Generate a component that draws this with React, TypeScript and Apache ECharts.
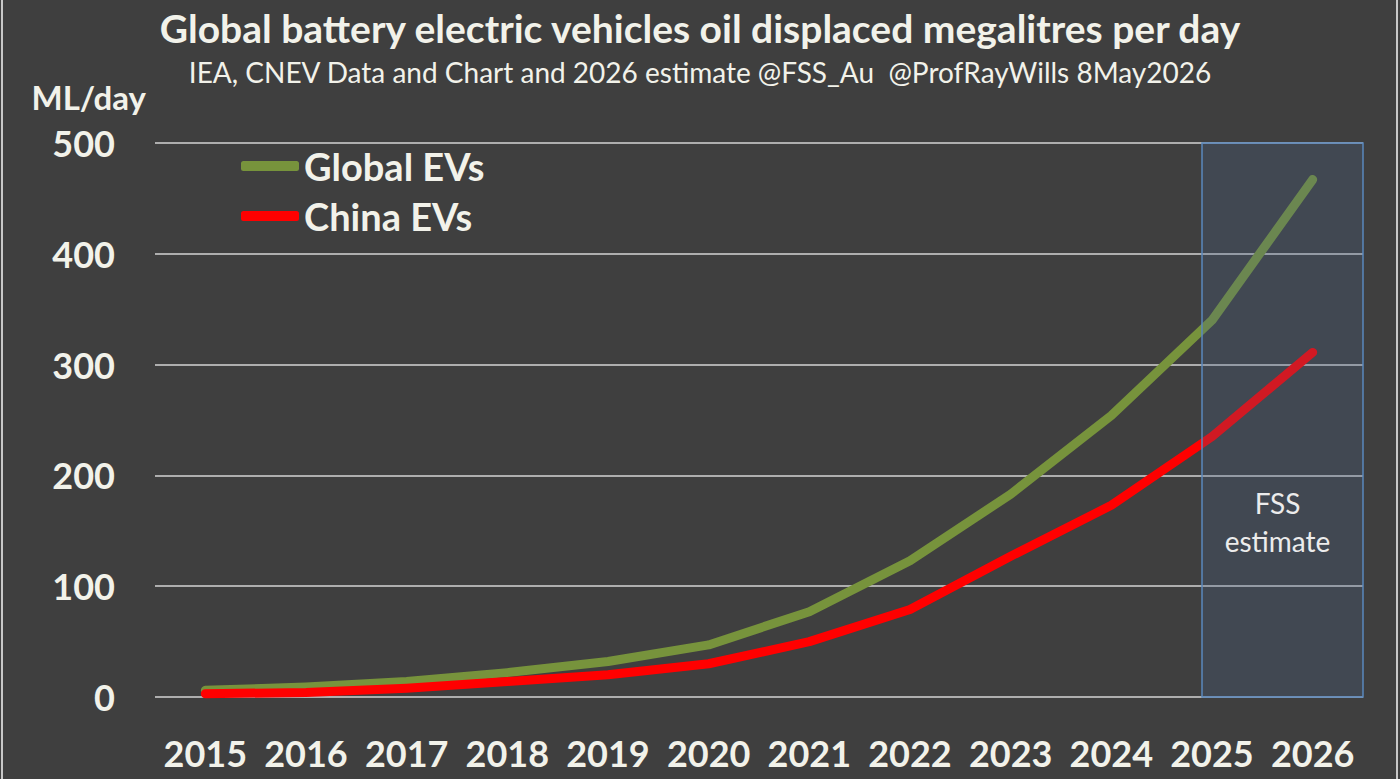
import React, { useRef, useEffect } from 'react'
import * as echarts from 'echarts'

const years = ['2015', '2016', '2017', '2018', '2019', '2020', '2021', '2022', '2023', '2024', '2025', '2026']
const globalEVs = [6, 9, 14, 22, 32, 47, 77, 123, 183, 254, 340, 467]
const chinaEVs = [3, 4, 8, 14, 20, 30, 50, 79, 127, 173, 235, 311]
const estimateFrom = '2025'

const FONT = 'Lato, "Open Sans", sans-serif'
const TEXT = '#f2f2ea'
const BG = '#3f3f3f'
const GRID = { left: 155, right: 37, top: 143, bottom: 82 }

const App: React.FC = () => {
  const chartRef = useRef<HTMLDivElement>(null)

  useEffect(() => {
    if (!chartRef.current) return
    const chart = echarts.init(chartRef.current, undefined, { renderer: 'svg' })

    chart.setOption({
      backgroundColor: BG,
      animation: false,
      textStyle: { fontFamily: FONT },
      title: [
        {
          text: 'Global battery electric vehicles oil displaced megalitres per day',
          left: 'center',
          top: 3,
          textStyle: { color: TEXT, fontSize: 39, fontWeight: 'bold', fontFamily: FONT },
        },
        {
          text: 'IEA, CNEV Data and Chart and 2026 estimate @FSS_Au  @ProfRayWills 8May2026',
          left: 'center',
          top: 53,
          textStyle: { color: TEXT, fontSize: 28, fontWeight: 'normal', fontFamily: FONT },
        },
      ],
      legend: {
        orient: 'vertical',
        left: 236,
        top: 141,
        itemWidth: 58,
        itemHeight: 10,
        itemGap: 10,
        icon: 'roundRect',
        textStyle: { color: TEXT, fontSize: 38, fontWeight: 'bold', fontFamily: FONT, lineHeight: 40 },
        data: ['Global EVs', 'China EVs'],
      },
      grid: GRID,
      xAxis: {
        type: 'category',
        data: years,
        boundaryGap: true,
        axisLine: { show: false },
        axisTick: { show: false },
        axisLabel: { interval: 0, color: TEXT, fontSize: 36, fontWeight: 'bold', fontFamily: FONT, margin: 38 },
      },
      yAxis: {
        type: 'value',
        min: 0,
        max: 500,
        interval: 100,
        name: 'ML/day',
        nameLocation: 'end',
        nameGap: 46,
        nameTextStyle: {
          color: TEXT,
          fontSize: 33,
          fontWeight: 'bold',
          fontFamily: FONT,
          align: 'right',
          verticalAlign: 'middle',
          padding: [0, 9, 0, 0],
        },
        axisLine: { show: false },
        axisTick: { show: false },
        axisLabel: { color: TEXT, fontSize: 36, fontWeight: 'bold', fontFamily: FONT, margin: 40 },
        splitLine: { lineStyle: { color: '#d4d4d4', width: 1.5 } },
      },
      series: [
        {
          name: 'Global EVs',
          type: 'line',
          data: globalEVs,
          showSymbol: false,
          color: '#77933c',
          lineStyle: { width: 9, color: '#77933c', cap: 'round', join: 'round' },
          z: 2,
        },
        {
          name: 'China EVs',
          type: 'line',
          data: chinaEVs,
          showSymbol: false,
          color: '#ff0000',
          lineStyle: { width: 9, color: '#ff0000', cap: 'round', join: 'round' },
          z: 3,
        },
      ],
    })

    // shaded estimate box, placed from the axis scale
    const x0 = (chart.convertToPixel({ xAxisIndex: 0 }, estimateFrom) as number) - 10
    const x1 = 1400 - GRID.right
    const yTop = chart.convertToPixel({ yAxisIndex: 0 }, 500) as number
    const yBot = chart.convertToPixel({ yAxisIndex: 0 }, 0) as number

    chart.setOption({
      graphic: [
        {
          type: 'rect',
          z: 100,
          shape: { x: x0, y: yTop, width: x1 - x0, height: yBot - yTop },
          style: { fill: 'rgba(70, 100, 140, 0.25)', stroke: '#5a88bd', lineWidth: 1.5 },
        },
        {
          type: 'text',
          z: 101,
          x: (x0 + x1) / 2 - 5,
          y: 522,
          style: {
            text: 'FSS\nestimate',
            fill: '#ececec',
            font: `28px ${FONT}`,
            lineHeight: 38,
            align: 'center',
            verticalAlign: 'middle',
          },
        },
        {
          type: 'rect',
          z: 100,
          shape: { x: 1, y: 0, width: 2, height: 779 },
          style: { fill: '#c8c8c8' },
        },
        {
          type: 'rect',
          z: 100,
          shape: { x: 1396, y: 0, width: 2, height: 779 },
          style: { fill: '#c8c8c8' },
        },
      ],
    })

    return () => {
      chart.dispose()
    }
  }, [])

  return (
    <div
      ref={chartRef}
      style={{ position: 'absolute', left: 0, top: 0, width: '1400px', height: '779px' }}
    />
  )
}

export default App
